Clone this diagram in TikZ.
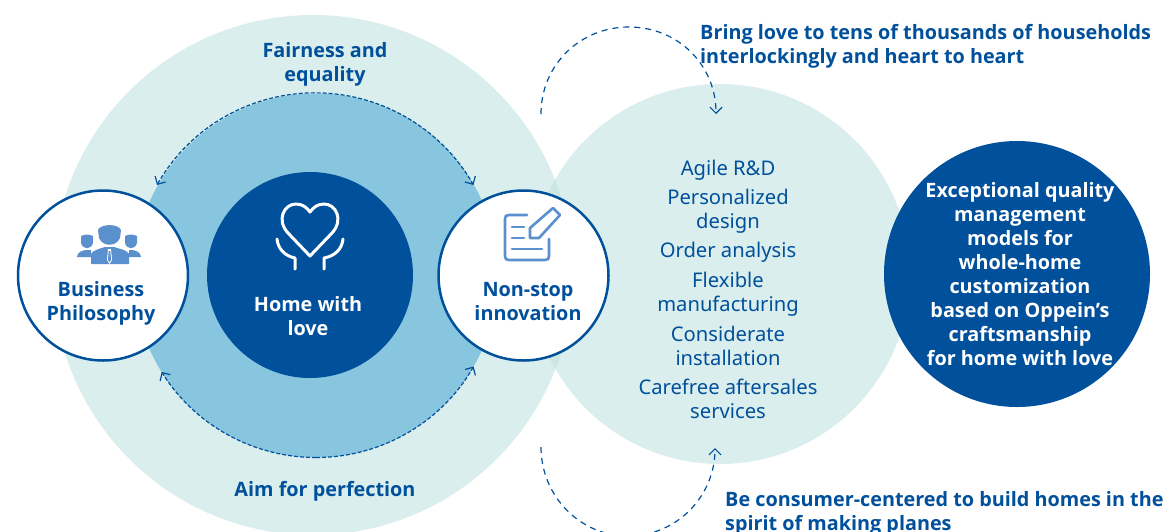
\documentclass[tikz,border=0pt]{standalone}
\usepackage{fontspec}
\usetikzlibrary{arrows.meta}
\setmainfont{Noto Sans}
\newfontfamily\headfont{Open Sans}[UprightFont={* Bold}]
\definecolor{pale}{HTML}{DAEEED}
\definecolor{lens}{HTML}{CCE6E6}
\definecolor{midblue}{HTML}{88C6E0}
\definecolor{navy}{HTML}{00509B}
\definecolor{iconblue}{HTML}{5B90CF}
\tikzset{
  disc/.style={fill=#1,draw=none},
  whitedisc/.style={fill=white,draw=navy,line width=2.5pt},
  headline/.style={font=\fontsize{19.8}{24}\selectfont\headfont,text=navy,align=center,inner sep=0pt},
  headleft/.style={font=\fontsize{19.8}{24}\selectfont\headfont,text=navy,align=left,anchor=west,inner sep=0pt},
  whitehead/.style={font=\fontsize{19.8}{24}\selectfont\headfont,text=white,align=center,inner sep=0pt},
  listitem/.style={font=\fontsize{20.2}{24}\selectfont,text=navy,align=center,inner sep=0pt},
  dasharc/.style={draw=navy,line width=1.2pt,dash pattern=on 6pt off 5pt},
  dashring/.style={draw=navy,line width=1.2pt,dash pattern=on 4pt off 2pt},
  tip/.style={-{Straight Barb[length=6pt,width=12pt,line width=1.2pt]}},
  iconline/.style={draw=#1,line width=3pt,line cap=round,line join=round,fill=none}
}
\begin{document}
\begin{tikzpicture}[x=1pt,y=-1pt]
\useasboundingbox (0,0) rectangle (1165,531);
\clip (0,0) rectangle (1165,531);
% discs
\fill[disc=pale] (313,275) circle (260);
\fill[disc=pale] (720,274) circle (190);
\begin{scope}
  \clip (313,275) circle (260);
  \fill[disc=lens] (720,274) circle (190);
\end{scope}
\fill[disc=midblue] (316,275.5) circle (182);
\node[circle,fill=navy,minimum size=206pt,inner sep=0pt] (core) at (310,275) {};
\node[circle,fill=navy,minimum size=266pt,inner sep=0pt] (quality) at (1017,274) {};
\node[circle,whitedisc,minimum size=170pt,inner sep=0pt] (biz) at (103,275.5) {};
\node[circle,whitedisc,minimum size=170pt,inner sep=0pt] (inno) at (523.5,275.5) {};
% dashed ring arcs
\coordinate (ringTL) at (157,185);
\draw[dashring,{Straight Barb[length=6pt,width=12pt,line width=1.2pt]}-{Straight Barb[length=6pt,width=12pt,line width=1.2pt]}] (ringTL) arc[start angle=209.6,end angle=330.4,radius=182];
\coordinate (ringB) at (316,457.5);
\draw[dashring,tip] (ringB) arc[start angle=90,end angle=148,radius=182];
\draw[dashring,tip] (ringB) arc[start angle=90,end angle=30,radius=182];
% outer dashed arcs
\coordinate (topS) at (541,114);
\coordinate (topE) at (716,114);
\coordinate (botS) at (541,447);
\coordinate (botE) at (715,448);
\draw[dasharc,tip] (topS) .. controls (541,65) and (580,27) .. (629,27) .. controls (678,27) and (716,65) .. (topE);
\draw[dasharc,tip] (botS) .. controls (541,496) and (580,536) .. (628,536) .. controls (677,536) and (715,496) .. (botE);
% heart icon
\draw[iconline=white] (310,256) -- (288,233) .. controls (276,220) and (284,204) .. (296,204) .. controls (303,204) and (307,208) .. (310,212) .. controls (313,208) and (317,204) .. (324,204) .. controls (336,204) and (344,220) .. (332,233) -- cycle;
\draw[iconline=white] (277,239) .. controls (278,249) and (285,256) .. (295,258) -- (295,269);
\draw[iconline=white] (343,239) .. controls (342,249) and (335,256) .. (324,258) -- (324,269);
% people icon
\fill[iconblue] (81,236) .. controls (85,234) and (89,234) .. (93,236) -- (93,243) .. controls (91,250) and (83,250) .. (81,243) -- cycle;
\fill[iconblue] (125,236) .. controls (129,234) and (133,234) .. (137,236) -- (137,243) .. controls (135,250) and (127,250) .. (125,243) -- cycle;
\fill[iconblue] (77,257) .. controls (77,252) and (83,250) .. (87,250) -- (91,250) -- (91,257) -- cycle;
\fill[iconblue] (141,257) .. controls (141,252) and (135,250) .. (131,250) -- (129,250) -- (129,257) -- cycle;
\fill[iconblue] (98,230) .. controls (100,224) and (118,223) .. (121,230) -- (120,238) .. controls (116,247) and (103,247) .. (99,238) -- cycle;
\fill[iconblue] (91,264) -- (91,254) .. controls (93,250) and (99,249) .. (105,247) -- (114,247) .. controls (120,249) and (127,250) .. (129,254) -- (129,264) -- cycle;
\fill[white] (108,249) -- (111,249) -- (112,260) -- (109.5,264) -- (107,260) -- cycle;
\fill[iconblue] (108.7,251) -- (110.3,251) -- (111,260) -- (109.5,262) -- (108,260) -- cycle;
% note icon
\draw[iconline=iconblue,line width=2.6pt] (527,215) -- (509,215) .. controls (506,215) and (505,216) .. (505,219) -- (505,256) .. controls (505,259) and (506,260) .. (509,260) -- (545,260) .. controls (548,260) and (549,259) .. (549,256) -- (549,239);
\draw[iconline=iconblue,line width=2.6pt] (512,227) -- (524,227) (512,238) -- (524,238) (512,249) -- (542,249);
\draw[iconline=iconblue,line width=2.6pt] (530,238) -- (530,228) -- (553,208) -- (560,215) -- (539,238) -- cycle;
% labels
\node[headline] (fair) at (325,64.5) {Fairness and\\equality};
\node[headline] (aim) at (325,491) {Aim for perfection};
\node[whitehead] (homelabel) at (308,316) {Home with\\love};
\node[headline] (bizlabel) at (101,303.5) {Business\\Philosophy};
\node[headline] (innolabel) at (528,301.5) {Non-stop\\innovation};
\node[headleft] (bring) at (700,46.5) {Bring love to tens of thousands of households\\interlockingly and heart to heart};
\node[headleft] (consumer) at (725,513.5) {Be consumer-centered to build homes in the\\spirit of making planes};
\node[whitehead] (qualitytext) at (1020,274) {Exceptional quality\\management\\models for\\whole-home\\customization\\based on Oppein’s\\craftsmanship\\for home with love};
\node[listitem] (l1) at (728,170) {Agile R\&D};
\node[listitem] (l2) at (728,211) {Personalized\\design};
\node[listitem] (l3) at (728,252) {Order analysis};
\node[listitem] (l4) at (728,294) {Flexible\\manufacturing};
\node[listitem] (l5) at (728,345.5) {Considerate\\installation};
\node[listitem] (l6) at (728,399) {Carefree aftersales\\services};
\end{tikzpicture}
\end{document}
